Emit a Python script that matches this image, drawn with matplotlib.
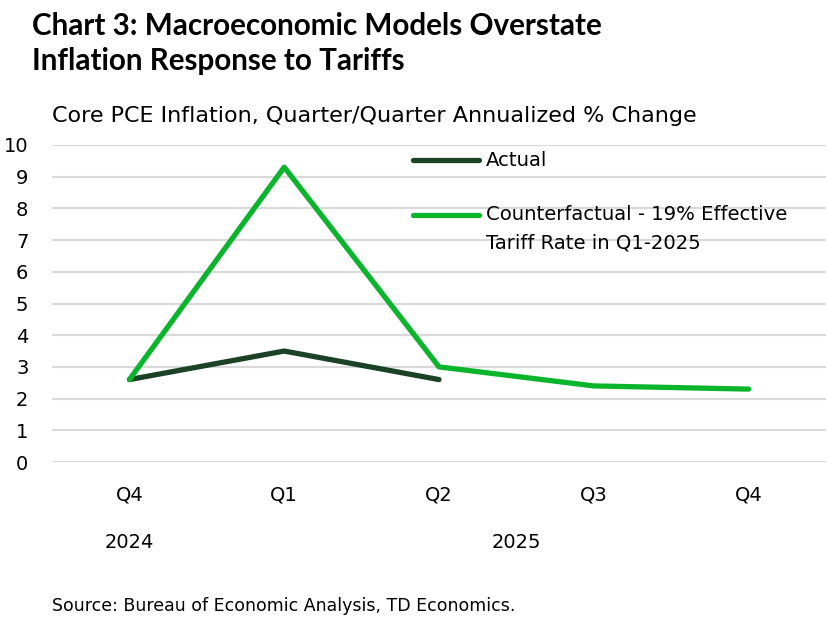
import matplotlib
matplotlib.use("Agg")
import matplotlib.pyplot as plt
from matplotlib.lines import Line2D

categories = ["Q4", "Q1", "Q2", "Q3", "Q4"]
years = ["2024", "2025"]
actual = [2.6, 3.5, 2.6]
counterfactual = [2.6, 9.3, 3.0, 2.4, 2.3]
yticks = list(range(0, 11))
c_actual = "#1b4227"
c_counter = "#0ab52b"

W, H = 827, 617
plt.rcParams['font.family'] = ['DejaVu Sans']
fig = plt.figure(figsize=(W / 100, H / 100), dpi=100)

ax = fig.add_axes([52 / W, 1 - 462 / H, (826 - 52) / W, (462 - 145) / H])
x = list(range(len(categories)))
ax.plot(x[:len(actual)], actual, color=c_actual, lw=3.8, solid_capstyle="round", zorder=3)
ax.plot(x, counterfactual, color=c_counter, lw=3.8, solid_capstyle="round", zorder=3)

ax.set_xlim(-0.5, len(categories) - 0.5)
ax.set_ylim(0, 10)
ax.set_yticks(yticks)
ax.set_yticklabels([str(v) for v in yticks], fontsize=14)
ax.set_xticks(x)
ax.set_xticklabels(categories, fontsize=14)
ax.tick_params(axis="both", length=0, colors="#000000")
ax.tick_params(axis="y", pad=17)
ax.tick_params(axis="x", pad=17)
ax.grid(axis="y", color="#d9d9d9", lw=1.5)
ax.set_axisbelow(True)
for s in ax.spines.values():
    s.set_visible(False)

# year labels
ax.text(0, -0.253, years[0], transform=ax.get_xaxis_transform(), ha="center",
        va="center", fontsize=14)
ax.text(2.5, -0.253, years[1], transform=ax.get_xaxis_transform(), ha="center",
        va="center", fontsize=14)

# legend (manual, to match layout)
def fx(px):
    return px / W

def fy(py):
    return 1 - py / H

fig.add_artist(Line2D([fx(413), fx(479)], [fy(160), fy(160)], color=c_actual, lw=3.8,
                      solid_capstyle="round", transform=fig.transFigure))
fig.add_artist(Line2D([fx(413), fx(479)], [fy(215), fy(215)], color=c_counter, lw=3.8,
                      solid_capstyle="round", transform=fig.transFigure))
fig.text(fx(486), fy(160), "Actual", fontsize=14.1, va="center", ha="left")
fig.text(fx(486), fy(215), "Counterfactual - 19% Effective", fontsize=14.1, va="center", ha="left")
fig.text(fx(486), fy(243), "Tariff Rate in Q1-2025", fontsize=14.1, va="center", ha="left")

fig.text(32 / W, 1 - 26 / H, "Chart 3: Macroeconomic Models Overstate", fontsize=21.3,
         fontweight="bold", va="center", ha="left", family="Lato")
fig.text(32 / W, 1 - 61 / H, "Inflation Response to Tariffs", fontsize=21.3,
         fontweight="bold", va="center", ha="left", family="Lato")
fig.text(52 / W, 1 - 116 / H, "Core PCE Inflation, Quarter/Quarter Annualized % Change",
         fontsize=16, va="center", ha="left")
fig.text(52 / W, 1 - 606 / H, "Source: Bureau of Economic Analysis, TD Economics.",
         fontsize=12.5, va="center", ha="left")

fig.savefig("out.png", dpi=100)
